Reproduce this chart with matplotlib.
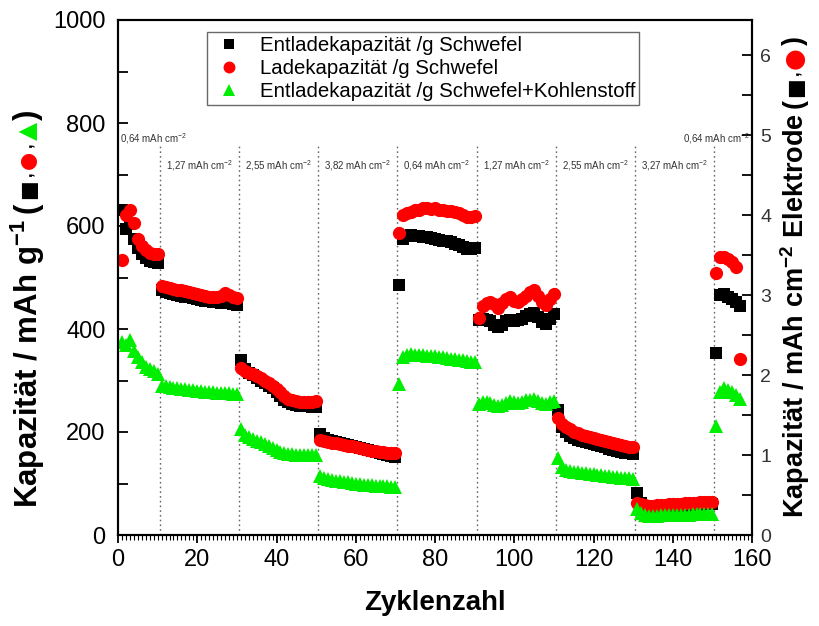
import matplotlib
matplotlib.use('Agg')
import matplotlib.pyplot as plt
import numpy as np
from matplotlib.ticker import MultipleLocator

plt.rcParams['font.family'] = ['Liberation Sans', 'DejaVu Sans']
plt.rcParams['mathtext.default'] = 'regular'

# ---------------- data ----------------
cycles = np.arange(1, 158)

# Entladekapazität /g Schwefel (black squares)
discharge_s = [
    631, 595, 604, 574, 558, 546, 538, 533, 530, 528,
    475, 472, 470, 468, 466, 465, 463, 462, 460, 458, 456, 455, 454, 452, 452, 450, 455, 452, 448, 447,
    340, 322, 315, 310, 305, 300, 295, 290, 285, 278, 270, 263, 258, 255, 252, 251, 250, 250, 249, 248,
    197, 188, 185, 183, 181, 179, 177, 175, 173, 171, 169, 167, 165, 163, 161, 159, 157, 155, 153, 152,
    485, 575, 580, 582, 580, 580, 578, 578, 576, 575, 572, 570, 570, 568, 566, 563, 560, 556, 555, 557,
    418, 420, 418, 415, 408, 404, 408, 415, 418, 416, 417, 420, 425, 430, 432, 424, 413, 410, 420, 430,
    243, 210, 200, 193, 188, 185, 182, 180, 178, 176, 174, 172, 170, 167, 165, 163, 161, 160, 159, 158,
    82, 62, 56, 54, 53, 53, 54, 54, 55, 56, 56, 57, 57, 58, 58, 59, 59, 60, 60, 61,
    353, 466, 468, 463, 458, 452, 445,
]

# Ladekapazität /g Schwefel (red circles)
charge_s = [
    534, 622, 632, 605, 574, 562, 553, 548, 546, 546,
    483, 482, 480, 478, 476, 476, 474, 472, 470, 467, 466, 464, 462, 462, 462, 465, 470, 466, 462, 460,
    325, 318, 315, 312, 308, 304, 300, 295, 290, 284, 277, 270, 265, 262, 260, 258, 258, 258, 258, 260,
    185, 183, 181, 179, 178, 176, 175, 173, 172, 170, 168, 167, 165, 164, 163, 162, 161, 160, 159, 160,
    586, 622, 626, 628, 632, 632, 634, 634, 633, 634, 632, 632, 630, 630, 628, 626, 622, 618, 617, 620,
    421, 445, 450, 452, 448, 440, 450, 458, 463, 455, 452, 458, 465, 472, 476, 465, 452, 447, 458, 468,
    228, 215, 210, 205, 200, 198, 195, 193, 190, 188, 186, 184, 182, 180, 178, 176, 174, 172, 171, 170,
    62, 60, 58, 57, 57, 58, 58, 59, 60, 60, 61, 61, 62, 62, 63, 63, 64, 64, 64, 65,
    508, 540, 540, 535, 530, 520, 342,
]

# Entladekapazität /g Schwefel+Kohlenstoff (green triangles)
discharge_sc = [
    375, 368, 378, 358, 345, 335, 327, 322, 318, 312,
    290, 289, 287, 286, 285, 284, 283, 282, 281, 280, 279, 278, 278, 277, 276, 276, 275, 275, 274, 273,
    205, 195, 190, 187, 183, 180, 176, 172, 168, 165, 162, 160, 158, 157, 156, 156, 155, 155, 155, 155,
    115, 110, 108, 106, 105, 104, 103, 102, 101, 100, 99, 98, 97, 97, 96, 96, 95, 95, 94, 94,
    293, 345, 350, 352, 350, 350, 349, 348, 347, 347, 346, 345, 344, 342, 341, 340, 339, 337, 336, 335,
    255, 258, 258, 256, 253, 250, 252, 257, 260, 258, 257, 258, 262, 263, 265, 260, 256, 255, 258, 260,
    150, 132, 127, 125, 123, 122, 121, 120, 119, 118, 117, 116, 115, 114, 113, 112, 111, 110, 110, 108,
    50, 42, 38, 37, 37, 37, 38, 38, 38, 38, 39, 39, 39, 39, 40, 40, 40, 40, 40, 40,
    212, 278, 285, 282, 277, 272, 265,
]

legend_labels = ["Entladekapazität /g Schwefel",
                 "Ladekapazität /g Schwefel",
                 "Entladekapazität /g Schwefel+Kohlenstoff"]

segment_bounds = [0.5, 10.5, 30.5, 50.5, 70.5, 90.5, 110.5, 130.5, 150.5, 158.5]
segment_labels = ["0,64 mAh cm$^{-2}$", "1,27 mAh cm$^{-2}$", "2,55 mAh cm$^{-2}$",
                  "3,82 mAh cm$^{-2}$", "0,64 mAh cm$^{-2}$", "1,27 mAh cm$^{-2}$",
                  "2,55 mAh cm$^{-2}$", "3,27 mAh cm$^{-2}$", "0,64 mAh cm$^{-2}$"]

# ---------------- figure ----------------
W, H = 819, 626
fig = plt.figure(figsize=(W / 100, H / 100), dpi=100)
ax = fig.add_axes([118 / W, 1 - 535 / H, (752 - 118) / W, (535 - 20) / H])

BLACK, RED, GREEN = '#000000', '#ff0000', '#00ee00'

ax.plot(cycles, discharge_s, 's', color=BLACK, ms=8.5, mew=0, label=legend_labels[0], zorder=3)
ax.plot(cycles, charge_s, 'o', color=RED, ms=9.5, mew=0, label=legend_labels[1], zorder=4)
ax.plot(cycles, discharge_sc, '^', color=GREEN, ms=10, mew=0, label=legend_labels[2], zorder=5)

# dotted separators
ax.vlines(segment_bounds[1:-1], 0, 757, colors='#666666', linestyles=(0, (1.2, 2.2)),
          linewidth=1.0, zorder=1)

# segment labels
for i, lab in enumerate(segment_labels):
    lo, hi = segment_bounds[i], segment_bounds[i + 1]
    if i == 0:
        ax.text(lo, 770, lab, fontsize=7, color='#333333', ha='left', va='center')
    elif i == len(segment_labels) - 1:
        ax.text(hi + 1, 770, lab, fontsize=7, color='#333333', ha='right', va='center')
    else:
        ax.text((lo + hi) / 2, 718, lab, fontsize=7, color='#333333', ha='center', va='center')

ax.set_xlim(0, 160)
ax.set_ylim(0, 1000)
ax.xaxis.set_major_locator(MultipleLocator(20))
ax.xaxis.set_minor_locator(MultipleLocator(1))
ax.yaxis.set_major_locator(MultipleLocator(200))
ax.yaxis.set_minor_locator(MultipleLocator(100))
ax.tick_params(axis='x', which='major', direction='out', length=6, width=1.3, labelsize=17, pad=4)
ax.tick_params(axis='x', which='minor', direction='out', length=3.5, width=0.8)
ax.tick_params(axis='y', which='both', direction='in', length=7, width=1.3, labelsize=17, pad=9)
for sp in ax.spines.values():
    sp.set_linewidth(1.5)

ax2 = ax.twinx()
ax2.set_ylim(0, 1000 / 155.3)
ax2.yaxis.set_major_locator(MultipleLocator(1))
ax2.yaxis.set_minor_locator(MultipleLocator(0.5))
ax2.tick_params(axis='y', which='both', direction='in', length=7, width=1.3, labelsize=14,
                labelcolor='#333333', pad=6)
for sp in ax2.spines.values():
    sp.set_linewidth(1.5)

ax.set_xlabel("Zyklenzahl", fontsize=20, fontweight='bold', labelpad=14)

leg = ax.legend(loc='upper left', bbox_to_anchor=(0.140, 0.977), fontsize=14.7,
                frameon=True, fancybox=False, edgecolor='#444444', borderaxespad=0,
                handlelength=1.8, handletextpad=0.6, labelspacing=0.2, borderpad=0.2,
                markerscale=0.9)
leg.get_frame().set_linewidth(1.0)
leg.set_zorder(10)

# composite rotated y labels
renderer = fig.canvas.get_renderer()


def stacked_label(x_px, y_px, pieces):
    y = y_px
    for s, color, fam, size, gap in pieces:
        y += gap
        t = fig.text(x_px / W, y / H, s, rotation=90, rotation_mode='anchor',
                     ha='left', va='center', color=color, fontsize=size,
                     fontweight='bold', family=fam)
        bb = t.get_window_extent(renderer)
        y += bb.height


LS = ['Liberation Sans', 'DejaVu Sans']
DJ = ['DejaVu Sans']
stacked_label(28, 118, [
    ("Kapazität / mAh g$^{-1}$", BLACK, LS, 22.5, 0),
    ("(", BLACK, LS, 22.5, 6),
    ("■", BLACK, DJ, 15, 4),
    (",", BLACK, LS, 12, 3),
    ("●", RED, DJ, 15, 3),
    (",", BLACK, LS, 12, 3),
    ("▲", GREEN, DJ, 17, 3),
    (")", BLACK, LS, 22.5, 2),
])
stacked_label(795, 108, [
    ("Kapazität / mAh cm$^{-2}$ Elektrode", BLACK, LS, 19.5, 0),
    ("(", BLACK, LS, 19.5, 5),
    ("■", BLACK, DJ, 15, 2),
    (",", BLACK, LS, 12, 2),
    ("●", RED, DJ, 18, 2),
    (")", BLACK, LS, 19.5, 2),
])

fig.savefig('out.png', dpi=100)
